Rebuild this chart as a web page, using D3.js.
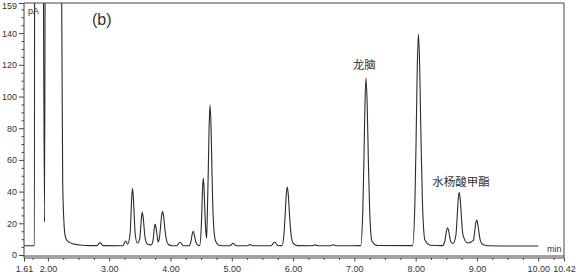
<!DOCTYPE html>
<html>
<head>
<meta charset="utf-8">
<script src="https://cdn.jsdelivr.net/npm/d3@7"></script>
<style>
  body { margin: 0; background: #fff; }
  text { font-family: "Liberation Sans", Arial, sans-serif; fill: #333; }
  .cjk { font-family: "Noto Sans CJK SC", sans-serif; }
</style>
</head>
<body>
<div id="chart"></div>
<script>
// Size of the picture
var width = 576;
var height = 274;

// Chromatogram trace (retention time in min, signal in pA)
var traceTime = [
  1.61, 1.78, 1.786, 1.904, 1.945, 1.966, 2.21, 2.225, 2.241, 2.26, 2.279, 2.31, 2.36, 2.45, 2.52, 2.70,
  2.80, 2.85, 2.90,
  3.22, 3.27, 3.30,
  3.341, 3.354, 3.367, 3.38, 3.394, 3.409, 3.424, 3.46,
  3.498, 3.512, 3.526, 3.54, 3.555, 3.571, 3.588, 3.62,
  3.6875, 3.7125, 3.725, 3.7375, 3.75, 3.764, 3.778, 3.79, 3.80,
  3.8175, 3.835, 3.8525, 3.87, 3.889, 3.908, 3.93, 3.968, 4.02,
  4.10, 4.155, 4.21,
  4.30, 4.328, 4.342, 4.356, 4.37, 4.385, 4.401, 4.418, 4.45,
  4.475, 4.499, 4.511, 4.523, 4.535, 4.548, 4.561, 4.575, 4.59,
  4.60, 4.615, 4.63, 4.645, 4.662, 4.678, 4.696, 4.73, 4.78, 4.85,
  4.97, 5.02, 5.07,
  5.25, 5.30, 5.35,
  5.64, 5.70, 5.75,
  5.82, 5.852, 5.87, 5.887, 5.905, 5.924, 5.943, 5.965, 6.003, 6.07,
  6.31, 6.36, 6.41,
  6.60, 6.655, 6.71,
  7.1025, 7.1375, 7.155, 7.1725, 7.19, 7.209, 7.2285, 7.2495, 7.288, 7.38,
  7.95, 7.988, 8.007, 8.026, 8.045, 8.066, 8.087, 8.11, 8.151, 8.24,
  8.44, 8.472, 8.488, 8.504, 8.52, 8.538, 8.555, 8.575, 8.61,
  8.6575, 8.675, 8.6925, 8.71, 8.729, 8.7485, 8.77, 8.85,
  8.9425, 8.96, 8.9775, 8.995, 9.014, 9.0335, 9.055, 9.093, 9.2,
  9.5, 10.0
];
var traceSignal = [
  5.8, 5.8, 400, 400, 21, 400, 400, 159, 47, 22, 12.6, 9.2, 7.8, 6.7, 6.3, 5.9,
  5.9, 7.8, 5.9,
  5.8, 8.8, 6.8,
  13.4, 23.9, 36.2, 42, 36.2, 23.9, 13.4, 7.4,
  10.3, 16.4, 23.6, 27, 23.6, 16.4, 10.3, 7.0,
  6.4, 8.7, 12.7, 17.3, 19.5, 17.3, 13.5, 9.8, 8.2,
  10.4, 16.6, 24.0, 27.5, 24.0, 16.6, 10.4, 6.6, 5.8,
  5.8, 8.0, 5.8,
  5.8, 7.7, 10.4, 13.5, 15, 13.5, 10.4, 7.7, 6.2,
  5.9, 14.8, 27.2, 41.8, 48.6, 41.8, 27.2, 15.5, 10.5,
  24.4, 50.2, 80.4, 94.6, 80.4, 50.2, 24.4, 9.5, 6.3, 5.8,
  5.8, 7.4, 5.8,
  5.8, 6.6, 5.8,
  5.8, 8.2, 6.0,
  5.9, 13.6, 24.4, 37.0, 43, 37.0, 24.4, 13.6, 7.3, 5.9,
  5.8, 6.4, 5.8,
  5.8, 6.5, 5.8,
  5.9, 28.0, 58.8, 94.8, 111.7, 94.8, 58.8, 28.0, 8.5, 6.0,
  5.9, 33.9, 72.6, 118.0, 139.4, 118.0, 72.6, 33.9, 9.5, 6.2,
  5.9, 8.2, 11.5, 15.4, 17.2, 15.4, 11.5, 8.2, 7.3,
  12.9, 22.7, 34.2, 39.6, 34.2, 22.7, 12.9, 7.6,
  9.2, 14.0, 19.5, 22.1, 19.5, 14.0, 9.2, 6.6, 5.8,
  5.7, 5.7
];

// Axis ticks
var xMajorTicks = [2, 3, 4, 5, 6, 7, 8, 9, 10];
var xEndTicks = [1.61, 10.42];
var yMajorTicks = [0, 20, 40, 60, 80, 100, 120, 140, 159];

// Peak names and where they sit
var peakNames = ["龙脑", "水杨酸甲酯"];
var peakNameTime = [7.16, 8.74];
var peakNameSignal = [117.4, 43.5];

// Plot frame
var plotLeft = 24, plotRight = 564, plotTop = 3, zeroY = 255;

function createSVG() {
  return d3.select("#chart")
    .append("svg")
    .attr("width", width)
    .attr("height", height);
}

function drawAxes(svg, x, y) {
  // minor ticks on y
  var yMinor = d3.range(0, 159, 5).filter(function(v) { return v % 20 !== 0; });
  svg.append("g")
    .attr("transform", "translate(" + plotLeft + ",0)")
    .call(d3.axisLeft(y).tickValues(yMinor).tickSize(2.5).tickFormat(""))
    .call(function(g) { g.select(".domain").remove(); });

  svg.append("g")
    .attr("transform", "translate(" + plotLeft + ",0)")
    .call(d3.axisLeft(y).tickValues(yMajorTicks).tickSize(5).tickPadding(2).tickFormat(d3.format("d")))
    .call(function(g) {
      g.select(".domain").remove();
      g.selectAll("text").style("font-size", "9px");
      // keep the top label inside the picture
      g.selectAll("text").filter(function(d) { return d === 159; }).attr("dy", "0.62em");
    });

  // x axis sits on the lower of the two bottom lines
  var xMinor = d3.range(1.75, 10.42, 0.25).filter(function(v) { return Math.abs(v - Math.round(v)) > 0.01; });
  svg.append("g")
    .attr("transform", "translate(0,258)")
    .call(d3.axisBottom(x).tickValues(xMinor).tickSize(2).tickFormat(""))
    .call(function(g) { g.select(".domain").remove(); });

  svg.append("g")
    .attr("transform", "translate(0,258)")
    .call(d3.axisBottom(x).tickValues(xMajorTicks.concat(xEndTicks)).tickSize(3.5).tickPadding(4).tickFormat(d3.format(".2f")))
    .call(function(g) {
      g.select(".domain").remove();
      g.selectAll("text").style("font-size", "9px");
    });

  svg.selectAll(".tick line").attr("stroke", "#444");

  // frame lines
  var frame = [
    [plotLeft, plotTop, plotRight, plotTop],
    [plotLeft, plotTop, plotLeft, 258],
    [plotRight, plotTop, plotRight, 258],
    [plotLeft, 256, plotRight, 256],
    [plotLeft, 258, plotRight, 258]
  ];
  svg.selectAll(".frame")
    .data(frame)
    .enter()
    .append("line")
    .attr("class", "frame")
    .attr("x1", function(d) { return d[0]; })
    .attr("y1", function(d) { return d[1]; })
    .attr("x2", function(d) { return d[2]; })
    .attr("y2", function(d) { return d[3]; })
    .attr("stroke", "#444")
    .attr("stroke-width", 1);
}

function drawTrace(svg, x, y) {
  svg.append("clipPath")
    .attr("id", "plot-clip")
    .append("rect")
    .attr("x", plotLeft)
    .attr("y", plotTop)
    .attr("width", plotRight - plotLeft)
    .attr("height", 256 - plotTop);

  var points = traceTime.map(function(t, i) { return [t, traceSignal[i]]; });
  var line = d3.line()
    .x(function(d) { return x(d[0]); })
    .y(function(d) { return y(d[1]); })
    .curve(d3.curveMonotoneX);

  svg.append("path")
    .datum(points)
    .attr("clip-path", "url(#plot-clip)")
    .attr("d", line)
    .attr("fill", "none")
    .attr("stroke", "#2b2b2b")
    .attr("stroke-width", 1.1);
}

function drawLabels(svg, x, y) {
  svg.append("text").attr("x", 28).attr("y", 14).style("font-size", "9px").text("pA");
  svg.append("text").attr("x", 547).attr("y", 252).style("font-size", "9px").text("min");
  svg.append("text").attr("x", 92).attr("y", 25).style("font-size", "16px").text("(b)");

  svg.selectAll(".peak-name")
    .data(peakNames)
    .enter()
    .append("text")
    .attr("class", "peak-name cjk")
    .attr("x", function(d, i) { return x(peakNameTime[i]); })
    .attr("y", function(d, i) { return y(peakNameSignal[i]); })
    .attr("text-anchor", "middle")
    .style("font-size", "11.5px")
    .text(function(d) { return d; });
}

function main() {
  var svg = createSVG();
  var x = d3.scaleLinear().domain([1.61, 10.42]).range([plotLeft, plotRight]);
  var y = d3.scaleLinear().domain([0, 159]).range([zeroY, plotTop]);

  drawTrace(svg, x, y);
  drawAxes(svg, x, y);
  drawLabels(svg, x, y);
}

window.onload = function() {
  main();
};
</script>
</body>
</html>
